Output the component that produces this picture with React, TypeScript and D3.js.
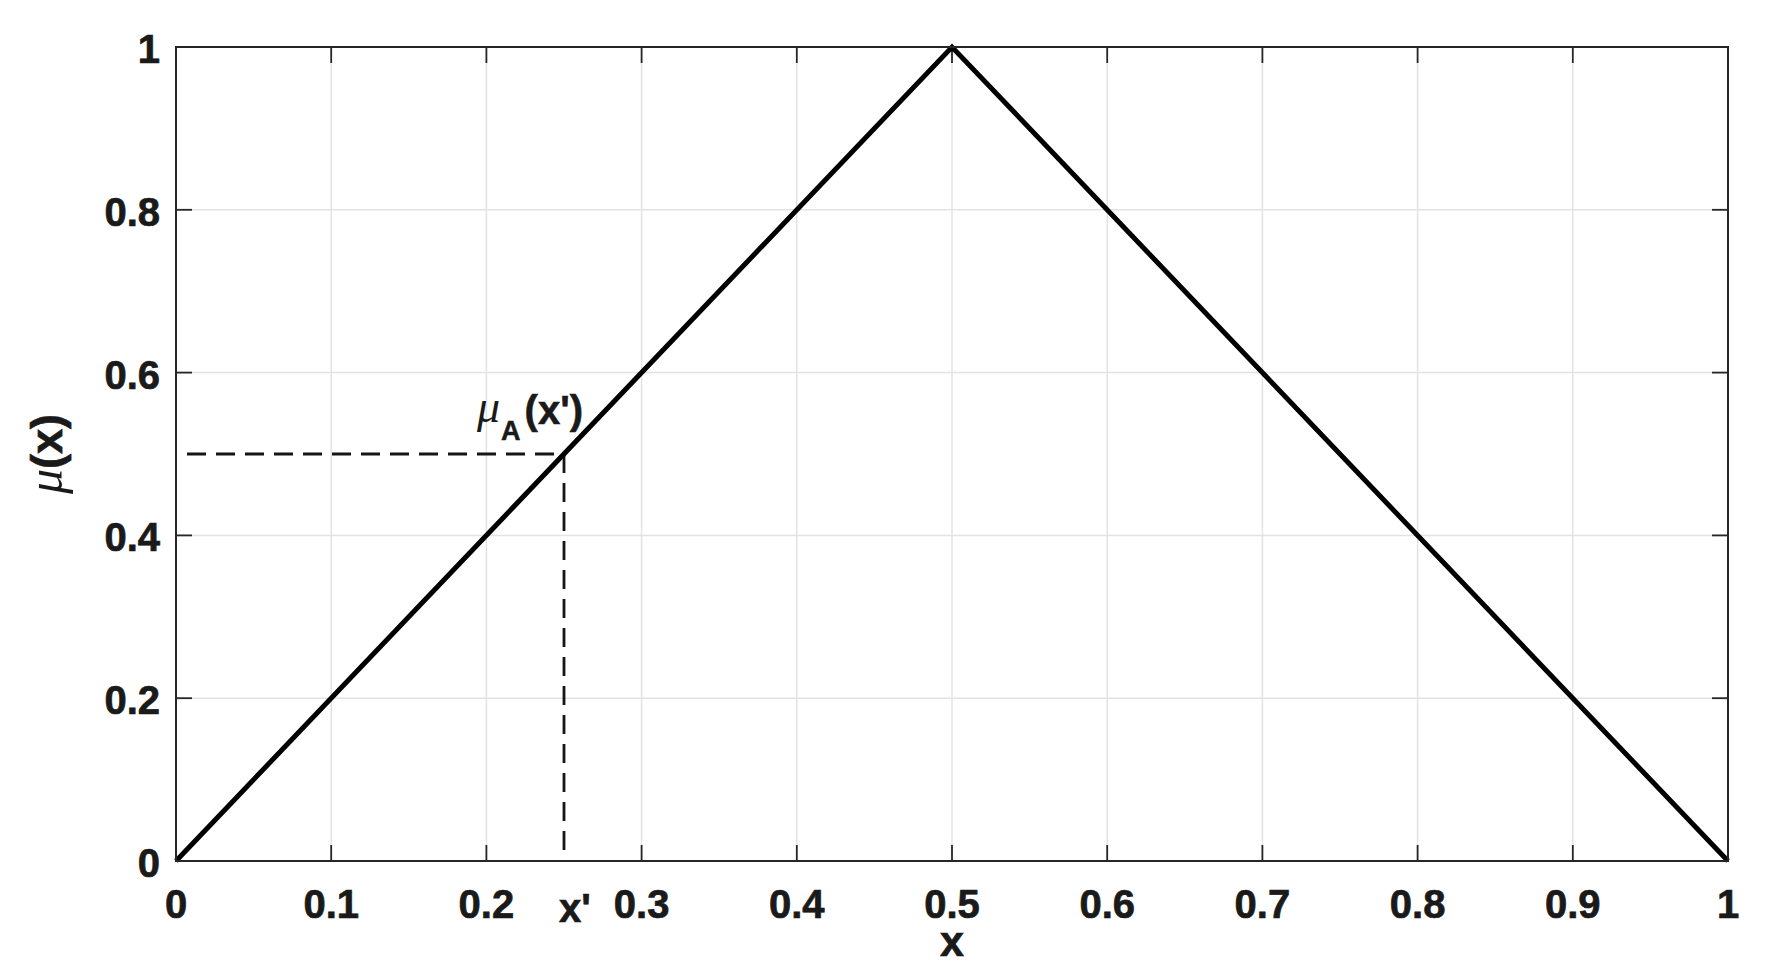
import React from "react";
import * as d3 from "d3";

const xValues = [0, 0.5, 1];
const muValues = [0, 1, 0];
const xTicks = [0, 0.1, 0.2, 0.3, 0.4, 0.5, 0.6, 0.7, 0.8, 0.9, 1];
const yTicks = [0, 0.2, 0.4, 0.6, 0.8, 1];
const xPrime = [0.25];
const muPrime = [0.5];

const W = 1770;
const H = 978;
const M = { left: 176, right: 1728, top: 47, bottom: 861 };
const FONT = "'Liberation Sans', Arial, Helvetica, sans-serif";
const SERIF = "'Liberation Serif', 'DejaVu Serif', serif";
const TXT = "#1a1a1a";
const AX = "#262626";

export default function App() {
  const x = d3.scaleLinear().domain([0, 1]).range([M.left, M.right]);
  const y = d3.scaleLinear().domain([0, 1]).range([M.bottom, M.top]);
  const pts: [number, number][] = xValues.map((v, i) => [v, muValues[i]]);
  const line = d3
    .line<[number, number]>()
    .x((d) => x(d[0]))
    .y((d) => y(d[1]));
  const px = x(xPrime[0]);
  const py = y(muPrime[0]);
  const dashPts: [number, number][] = [
    [0, muPrime[0]],
    [xPrime[0], muPrime[0]],
    [xPrime[0], 0],
  ];
  const fmt = (v: number) => (v === 0 || v === 1 ? String(v) : String(+v.toFixed(1)));
  const tick = 16;

  return (
    <svg
      width={W}
      height={H}
      style={{ position: "absolute", left: 0, top: 0, background: "#fff" }}
    >
      <rect x={0} y={0} width={W} height={H} fill="#fff" />
      {/* grid */}
      <g stroke="#e3e3e3" strokeWidth={1.5}>
        {xTicks.slice(1, -1).map((t) => (
          <line key={"gx" + t} x1={x(t)} x2={x(t)} y1={M.top} y2={M.bottom} />
        ))}
        {yTicks.slice(1, -1).map((t) => (
          <line key={"gy" + t} x1={M.left} x2={M.right} y1={y(t)} y2={y(t)} />
        ))}
      </g>
      {/* ticks */}
      <g stroke={AX} strokeWidth={1.8}>
        {xTicks.map((t) => (
          <g key={"tx" + t}>
            <line x1={x(t)} x2={x(t)} y1={M.bottom} y2={M.bottom - tick} />
            <line x1={x(t)} x2={x(t)} y1={M.top} y2={M.top + tick} />
          </g>
        ))}
        {yTicks.map((t) => (
          <g key={"ty" + t}>
            <line x1={M.left} x2={M.left + tick} y1={y(t)} y2={y(t)} />
            <line x1={M.right} x2={M.right - tick} y1={y(t)} y2={y(t)} />
          </g>
        ))}
      </g>
      {/* dashed guides */}
      <path
        d={line(dashPts) || ""}
        fill="none"
        stroke="#151515"
        strokeWidth={2.8}
        strokeDasharray="19 10"
        strokeDashoffset={18}
      />
      {/* main triangle */}
      <path
        d={line(pts) || ""}
        fill="none"
        stroke="#000"
        strokeWidth={5}
        strokeLinejoin="miter"
      />
      {/* axes box */}
      <rect
        x={M.left}
        y={M.top}
        width={M.right - M.left}
        height={M.bottom - M.top}
        fill="none"
        stroke={AX}
        strokeWidth={2}
      />
      {/* tick labels */}
      <g
        fontFamily={FONT}
        fontWeight="bold"
        fontSize={40}
        fill={TXT}
        stroke={TXT}
        strokeWidth={0.7}
      >
        {xTicks.map((t) => (
          <text key={"lx" + t} x={x(t)} y={918} textAnchor="middle">
            {fmt(t)}
          </text>
        ))}
        {yTicks.map((t) => (
          <text key={"ly" + t} x={160} y={y(t) + 16} textAnchor="end">
            {fmt(t)}
          </text>
        ))}
        <text x={px + 11} y={922} textAnchor="middle">
          x'
        </text>
      </g>
      {/* axis labels */}
      <text
        x={x(0.5)}
        y={956}
        textAnchor="middle"
        fontFamily={FONT}
        fontWeight="bold"
        fontSize={43}
        fill={TXT}
        stroke={TXT}
        strokeWidth={0.7}
      >
        x
      </text>
      <text
        transform={`translate(62, ${(M.top + M.bottom) / 2}) rotate(-90)`}
        textAnchor="middle"
        fill={TXT}
      >
        <tspan fontFamily={SERIF} fontStyle="italic" fontSize={50}>
          μ
        </tspan>
        <tspan
          fontFamily={FONT}
          fontWeight="bold"
          fontSize={45}
          stroke={TXT}
          strokeWidth={0.7}
        >
          (x)
        </tspan>
      </text>
      {/* annotation */}
      <text x={px - 87} y={py - 32} fill={TXT}>
        <tspan fontFamily={SERIF} fontStyle="italic" fontSize={46}>
          μ
        </tspan>
        <tspan
          dx={1}
          dy={18}
          fontFamily={FONT}
          fontWeight="bold"
          fontSize={27}
          stroke={TXT}
          strokeWidth={0.5}
        >
          A
        </tspan>
        <tspan
          dx={4}
          dy={-16}
          fontFamily={FONT}
          fontWeight="bold"
          fontSize={40}
          stroke={TXT}
          strokeWidth={0.6}
        >
          (x')
        </tspan>
      </text>
    </svg>
  );
}
